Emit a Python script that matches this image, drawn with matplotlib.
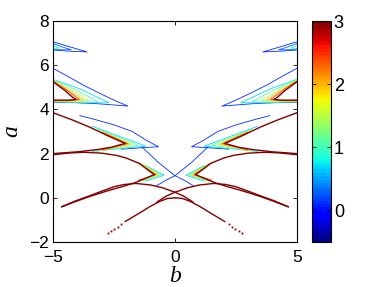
import numpy as np
import matplotlib
matplotlib.use('Agg')
import matplotlib.pyplot as plt
from matplotlib.colors import Normalize, ListedColormap
from matplotlib.cm import ScalarMappable

# contour lines, left half only (b <= 0);
# the chart is mirror symmetric in b, so every line is drawn at b and -b

# level-3 boundaries (dark red)
cross_b = [0, -0.5, -1.0, -1.6, -2.1, -2.5, -3.0, -3.6, -4.1, -4.65]
cross_a = [0.25, 0.45, 0.58, 0.65, 0.60, 0.50, 0.30, 0.05, -0.15, -0.41]
t1lo_b = [-0.85, -1.2, -1.6, -2.1, -2.6, -3.1, -3.6, -4.1, -4.65]
t1lo_a = [1.05, 0.88, 0.70, 0.52, 0.37, 0.20, 0.02, -0.18, -0.41]
t1up_b = [-0.85, -1.1, -1.45, -2.0, -2.4, -3.0, -3.7, -4.3, -5.0]
t1up_a = [1.05, 1.25, 1.55, 1.80, 1.92, 2.02, 2.06, 2.03, 1.95]
t2lo_b = [-2.05, -2.6, -3.2, -4.0, -5.0]
t2lo_a = [2.46, 2.29, 2.18, 2.08, 2.0]
t2up_b = [-2.05, -2.8, -3.5, -4.2, -5.0]
t2up_a = [2.46, 2.83, 3.2, 3.52, 3.85]
t3_b = [-5.0, -4.5, -4.2, -4.05, -4.3, -5.0]
t3_a = [5.25, 4.85, 4.55, 4.45, 4.42, 4.42]
low_b = [0, -0.3, -0.6, -1.0, -1.5, -2.05]
low_a = [0.0, -0.03, -0.15, -0.38, -0.72, -1.08]
xarm_b = [0, -0.35, -0.75]
xarm_a = [0.25, 0.08, -0.2]
dots_b = [-2.2, -2.35, -2.48, -2.62, -2.75]
dots_a = [-1.18, -1.3, -1.4, -1.5, -1.6]

# nested contours at the tongue tips
fan_levels = [2.5, 2.0, 1.5, 1.1, 0.7]
t3_fan_b = [[-5, -4.5, -3.92, -4.5, -5], [-5, -4.4, -3.75, -4.4, -5],
            [-5, -4.3, -3.55, -4.3, -5], [-5, -4.1, -3.15, -4.1, -5],
            [-5, -3.9, -2.7, -3.9, -5]]
t3_fan_a = [[5.28, 4.92, 4.45, 4.40, 4.40], [5.30, 4.90, 4.43, 4.38, 4.38],
            [5.32, 4.90, 4.40, 4.36, 4.37], [5.34, 4.90, 4.35, 4.33, 4.36],
            [5.36, 4.93, 4.30, 4.30, 4.35]]
t2_fan_b = [[-3.0, -1.95, -3.0], [-3.0, -1.86, -3.0], [-3.1, -1.75, -3.1],
            [-3.2, -1.5, -3.2], [-3.4, -1.2, -3.4]]
t2_fan_a = [[2.97, 2.45, 2.17], [2.99, 2.43, 2.15], [3.05, 2.42, 2.13],
            [3.12, 2.38, 2.11], [3.24, 2.34, 2.10]]
t1_fan_b = [[-1.5, -0.79, -1.5], [-1.45, -0.72, -1.45], [-1.4, -0.64, -1.4],
            [-1.3, -0.56, -1.3], [-1.2, -0.45, -1.2]]
t1_fan_a = [[1.57, 1.05, 0.80], [1.56, 1.05, 0.79], [1.54, 1.04, 0.78],
            [1.50, 1.03, 0.77], [1.46, 1.02, 0.76]]

# low level (blue) contours
blue3_b = [-5, -4.4, -3.76, -3.07, -2.5, -1.93, -2.5, -3.2, -4.0, -5]
blue3_a = [5.86, 5.5, 5.1, 4.72, 4.42, 4.15, 4.2, 4.26, 4.3, 4.33]
blue2_b = [-3.9, -3.3, -2.5, -1.75, -1.2, -0.68, -1.3, -2.2]
blue2_a = [3.72, 3.55, 3.3, 3.0, 2.62, 2.31, 2.27, 2.2]
bluex_b = [-1.35, -0.7, 0.0, 0.4, 0.75]
bluex_a = [2.3, 1.62, 1.0, 0.78, 0.55]
t4_b = [[-5, -4.4, -3.6, -4.4, -5], [-5, -4.6, -4.25, -4.7, -5]]
t4_a = [[7.06, 6.86, 6.6, 6.64, 6.69], [6.98, 6.82, 6.7, 6.7, 6.73]]
t4_levels = [0.1, 0.3]
t4c_b = [-5, -4.75, -5]
t4c_a = [6.9, 6.78, 6.76]

cmap = plt.get_cmap('jet')
norm = Normalize(-0.5, 3)


def both(ax, b, a, level, lw):
    b = np.asarray(b)
    for s in (1, -1):
        ax.plot(s * b, a, color=cmap(norm(level)), lw=lw, solid_capstyle='round')


fig = plt.figure(figsize=(3.82, 2.87), dpi=100)
ax = fig.add_axes([0.1387, 0.1568, 0.6387, 0.770])
cax = fig.add_axes([0.8168, 0.1568, 0.0497, 0.770])

# blue contours first
both(ax, blue3_b, blue3_a, 0.1, 0.6)
both(ax, blue2_b, blue2_a, 0.1, 0.6)
both(ax, bluex_b, bluex_a, 0.1, 0.6)
for b, a, lev in zip(t4_b, t4_a, t4_levels):
    both(ax, b, a, lev, 0.6)
both(ax, t4c_b, t4c_a, 0.8, 0.6)

# coloured fans
for fb, fa in [(t3_fan_b, t3_fan_a), (t2_fan_b, t2_fan_a), (t1_fan_b, t1_fan_a)]:
    for b, a, lev in zip(fb[::-1], fa[::-1], fan_levels[::-1]):
        both(ax, b, a, lev, 0.6)

# dark red boundaries on top
for b, a in [(cross_b, cross_a), (t1lo_b, t1lo_a), (t1up_b, t1up_a),
             (t2lo_b, t2lo_a), (t2up_b, t2up_a), (t3_b, t3_a),
             (low_b, low_a), (xarm_b, xarm_a)]:
    both(ax, b, a, 3.0, 1.0)
for s in (1, -1):
    ax.plot(s * np.asarray(dots_b), dots_a, 's', ms=1.3, mec='none',
            color=cmap(norm(3.0)))

ax.set_xlim(-5, 5)
ax.set_ylim(-2, 8)
ax.set_xticks([-5, 0, 5])
ax.set_yticks([-2, 0, 2, 4, 6, 8])
ax.tick_params(direction='in', length=3, width=0.6, top=True, right=True,
               labelsize=12.5, pad=3)
ax.tick_params(axis='x', pad=5.5)
for sp in ax.spines.values():
    sp.set_linewidth(0.8)
for lab in ax.get_xticklabels() + ax.get_yticklabels():
    lab.set_family('Liberation Sans')
ax.set_xlabel('b', family='Liberation Serif', style='italic', fontsize=17, labelpad=1)
ax.set_ylabel('a', family='Liberation Serif', style='italic', fontsize=17, labelpad=5)

cb_cmap = ListedColormap(cmap(np.linspace(0, 1, 64)))
cb = fig.colorbar(ScalarMappable(norm=norm, cmap=cb_cmap), cax=cax)
cb.set_ticks([0, 1, 2, 3])
cax.tick_params(direction='in', length=3, width=0.6, left=True, right=True,
                labelsize=13, pad=2)
for lab in cax.get_yticklabels():
    lab.set_family('Liberation Sans')
cb.outline.set_linewidth(0.8)

fig.savefig('out.png', dpi=100)
